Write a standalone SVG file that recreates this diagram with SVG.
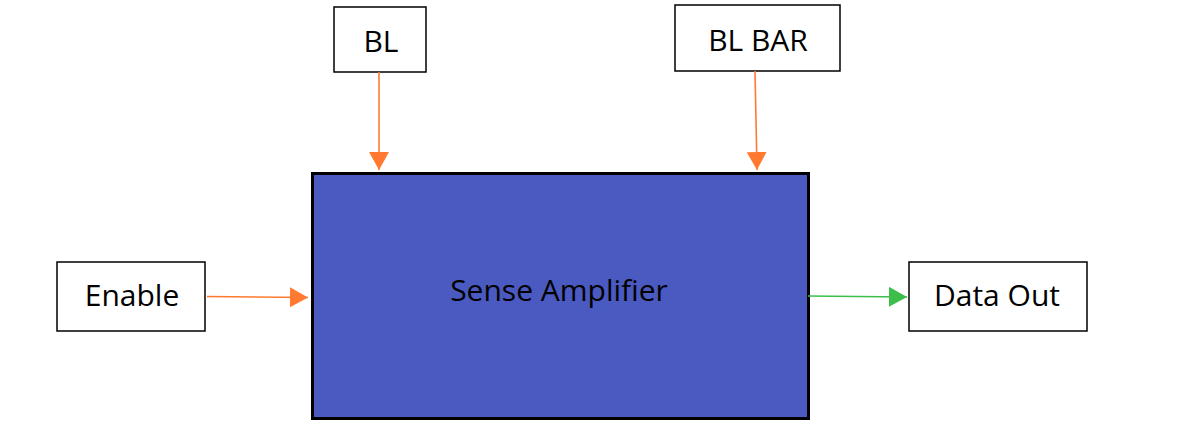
<svg xmlns="http://www.w3.org/2000/svg" width="1191" height="445" viewBox="0 0 1191 445">
<style>
.box{fill:#fff;stroke:#000;stroke-width:1.5}
.lbl{font-family:"Open Sans","Liberation Sans",sans-serif;font-size:30px;fill:#000;text-anchor:middle}
.or{stroke:#FF7A30;stroke-width:1.6;fill:none}
.gr{stroke:#3DBE4B;stroke-width:1.6;fill:none}
</style>
<defs>
<marker id="ao" markerWidth="20" markerHeight="20" refX="18" refY="10" orient="auto" markerUnits="userSpaceOnUse">
<path d="M0,0 L18,10 L0,20 Z" fill="#FF7A30"/>
</marker>
<marker id="ag" markerWidth="20" markerHeight="20" refX="18" refY="10" orient="auto" markerUnits="userSpaceOnUse">
<path d="M0,0 L18,10 L0,20 Z" fill="#3DBE4B"/>
</marker>
</defs>
<rect width="1191" height="445" fill="#fff"/>
<g id="sense-amplifier">
<rect x="312.5" y="173.5" width="496" height="245" fill="#4A5AC0" stroke="#000" stroke-width="3"/>
<text class="lbl" x="559" y="301">Sense Amplifier</text>
</g>
<g id="bl">
<rect class="box" x="334" y="7" width="92" height="65"/>
<text class="lbl" x="381" y="52">BL</text>
</g>
<g id="bl-bar">
<rect class="box" x="675" y="5" width="165" height="66"/>
<text class="lbl" x="758" y="51">BL BAR</text>
</g>
<g id="enable">
<rect class="box" x="57" y="262" width="148" height="69"/>
<text class="lbl" x="132" y="306">Enable</text>
</g>
<g id="data-out">
<rect class="box" x="909" y="262" width="178" height="69"/>
<text class="lbl" x="997" y="306">Data Out</text>
</g>
<g id="connectors">
<line class="or" x1="379" y1="72" x2="379" y2="170" marker-end="url(#ao)"/>
<line class="or" x1="755" y1="71" x2="757" y2="170" marker-end="url(#ao)"/>
<line class="or" x1="207" y1="296.5" x2="308" y2="297.5" marker-end="url(#ao)"/>
<line class="gr" x1="808" y1="296" x2="907" y2="297" marker-end="url(#ag)"/>
</g>
</svg>
